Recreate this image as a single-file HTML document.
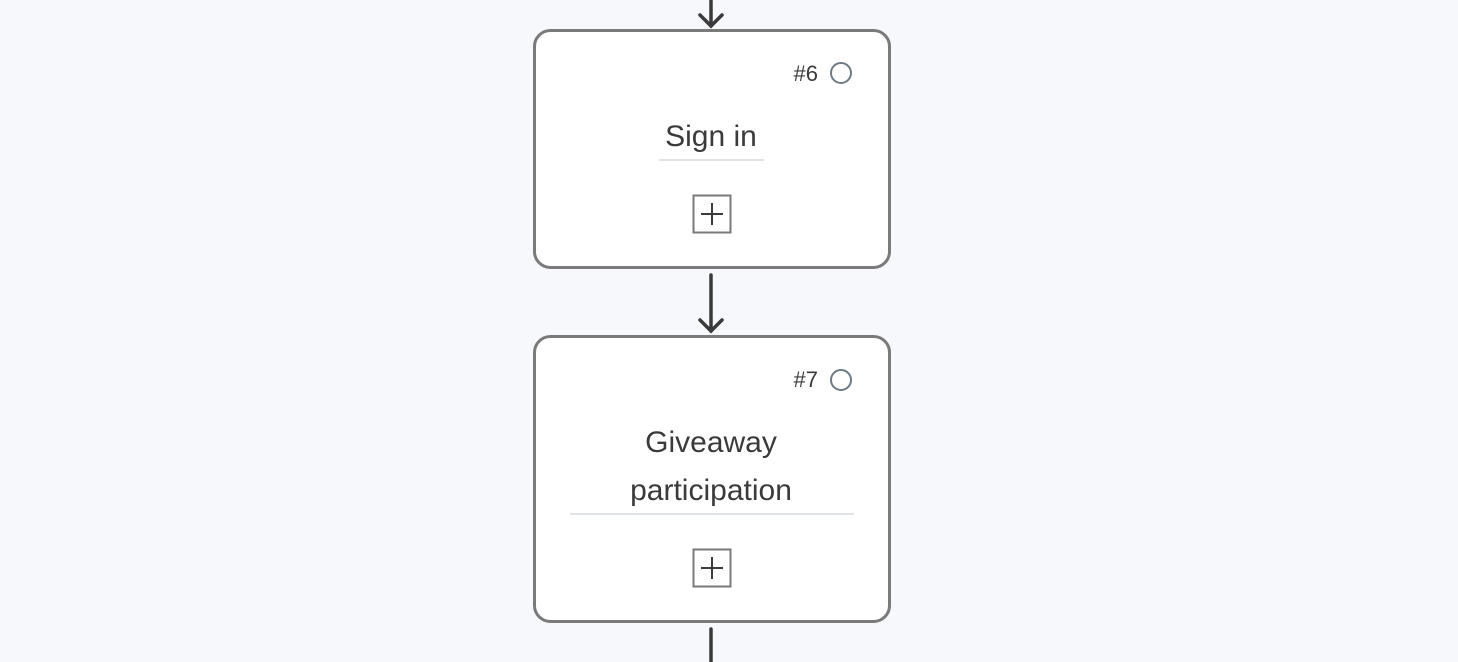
<!DOCTYPE html>
<html><head><meta charset="utf-8"><style>
html,body{margin:0;padding:0;background:#f7f8fc;}
svg{display:block;}
text{font-family:"Liberation Sans",sans-serif;fill:#3a3a3a;}
</style></head><body>
<svg width="1458" height="662" viewBox="0 0 1458 662" xmlns="http://www.w3.org/2000/svg">
<rect width="1458" height="662" fill="#f7f8fc"/>
<g stroke="#3a3a3a" stroke-width="3.5" fill="none" stroke-linecap="round">
<line x1="711" y1="0" x2="711" y2="26"/>
<polyline points="700,15 711,26 722,15"/>
<line x1="711" y1="275" x2="711" y2="331"/>
<polyline points="700,320 711,331 722,320"/>
<line x1="711" y1="629" x2="711" y2="662"/>
</g>
<rect x="534.5" y="30.5" width="355" height="237" rx="16" fill="#fff" stroke="#7a7a7a" stroke-width="3"/>
<rect x="534.5" y="336.5" width="355" height="285" rx="16" fill="#fff" stroke="#7a7a7a" stroke-width="3"/>
<text x="818" y="81" font-size="22" text-anchor="end">#6</text>
<circle cx="841" cy="73" r="10" fill="none" stroke="#6f7a83" stroke-width="2"/>
<text x="711" y="146" font-size="30" text-anchor="middle">Sign in</text>
<line x1="659" y1="160" x2="764" y2="160" stroke="#e0e3e8" stroke-width="2"/>
<rect x="693.5" y="195.5" width="37" height="37" fill="none" stroke="#7a7a7a" stroke-width="2"/>
<g stroke="#3a3a3a" stroke-width="2"><line x1="701" y1="214" x2="723" y2="214"/><line x1="712" y1="203" x2="712" y2="225"/></g>
<text x="818" y="387" font-size="22" text-anchor="end">#7</text>
<circle cx="841" cy="380" r="10" fill="none" stroke="#6f7a83" stroke-width="2"/>
<text x="711" y="452" font-size="30" text-anchor="middle">Giveaway</text>
<text x="711" y="500" font-size="30" text-anchor="middle">participation</text>
<line x1="570" y1="514" x2="854" y2="514" stroke="#e0e3e8" stroke-width="2"/>
<rect x="693.5" y="549.5" width="37" height="37" fill="none" stroke="#7a7a7a" stroke-width="2"/>
<g stroke="#3a3a3a" stroke-width="2"><line x1="701" y1="568" x2="723" y2="568"/><line x1="712" y1="557" x2="712" y2="579"/></g>
</svg>
</body></html>
